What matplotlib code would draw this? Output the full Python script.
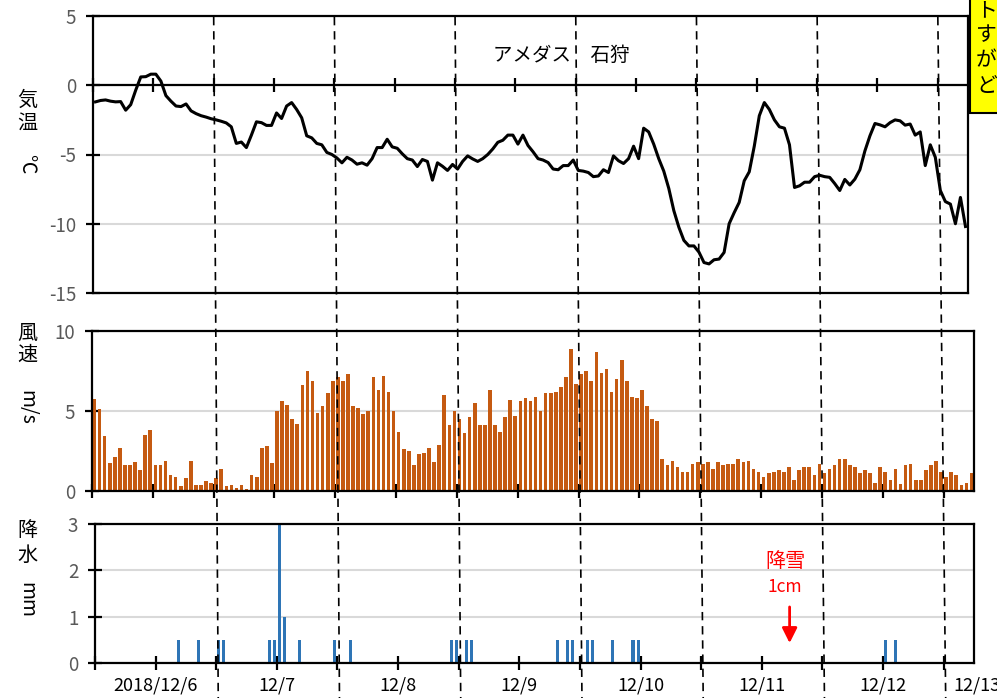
import numpy as np
import matplotlib.pyplot as plt
from matplotlib.lines import Line2D
from matplotlib.patches import Rectangle

plt.rcParams['font.family'] = ['Noto Sans CJK JP', 'DejaVu Sans']
plt.rcParams['axes.unicode_minus'] = False

# hours from 2018/12/6 00:00 (hourly obs, 12/5 13:00 .. 12/12 18:00)
hours = np.arange(-11, 163)

temp = [-1.2, -1.1, -1.06, -1.15, -1.2, -1.18, -1.8, -1.4, -0.35, 0.6,
        0.62, 0.8, 0.8, 0.3, -0.75, -1.15, -1.5, -1.54, -1.35, -1.85,
        -2.05, -2.2, -2.3, -2.42, -2.5, -2.6, -2.72, -3.0, -4.2, -4.1,
        -4.5, -3.6, -2.64, -2.7, -2.9, -2.9, -2.0, -2.4, -1.5, -1.25,
        -1.75, -2.35, -3.65, -3.8, -4.2, -4.3, -4.85, -5.0, -5.25, -5.6,
        -5.2, -5.4, -5.7, -5.6, -5.77, -5.3, -4.5, -4.5, -3.9, -4.45,
        -4.55, -4.95, -5.3, -5.4, -5.87, -5.36, -5.5, -6.85, -5.6, -5.85,
        -6.15, -5.72, -6.05, -5.5, -5.1, -5.32, -5.5, -5.3, -5.0, -4.6,
        -4.12, -3.97, -3.6, -3.6, -4.25, -3.6, -4.35, -4.8, -5.3, -5.4,
        -5.58, -6.05, -6.1, -5.8, -5.8, -5.4, -6.15, -6.2, -6.3, -6.6,
        -6.55, -6.1, -6.3, -5.1, -5.45, -5.65, -5.3, -4.4, -5.3, -3.1,
        -3.37, -4.25, -5.3, -6.2, -7.45, -9.05, -10.25, -11.2, -11.6, -11.6,
        -12.05, -12.8, -12.9, -12.6, -12.55, -12.07, -10.0, -9.2, -8.46, -6.9,
        -6.25, -4.4, -2.2, -1.25, -1.75, -2.5, -3.0, -3.1, -4.3, -7.38,
        -7.26, -7.0, -7.0, -6.6, -6.5, -6.6, -6.65, -7.1, -7.6, -6.8,
        -7.2, -6.78, -6.1, -4.74, -3.65, -2.76, -2.86, -3.0, -2.7, -2.5,
        -2.57, -2.88, -2.8, -3.6, -3.37, -5.8, -4.3, -5.2, -7.6, -8.4,
        -8.58, -10.0, -8.1, -10.2]

wind = [5.75, 5.1, 3.45, 1.75, 2.1, 2.7, 1.6, 1.6, 1.8, 1.3,
        3.5, 3.8, 1.6, 1.6, 1.9, 1.0, 0.9, 0.3, 0.8, 1.9,
        0.4, 0.4, 0.6, 0.5, 0.8, 1.4, 0.3, 0.4, 0.2, 0.4,
        0.1, 1.0, 0.9, 2.7, 2.8, 1.75, 5.0, 5.6, 5.4, 4.5,
        4.2, 6.6, 7.5, 6.9, 4.9, 5.3, 6.1, 6.9, 7.1, 6.9,
        7.3, 5.3, 5.2, 4.8, 5.0, 7.1, 6.3, 7.2, 6.2, 5.0,
        3.7, 2.6, 2.5, 1.6, 2.3, 2.4, 2.7, 1.8, 2.9, 6.0,
        4.1, 5.0, 4.5, 3.6, 4.6, 5.5, 4.1, 4.1, 6.3, 4.1,
        3.7, 4.6, 5.7, 4.7, 5.6, 5.8, 5.6, 5.9, 5.0, 6.1,
        6.1, 6.2, 6.5, 7.1, 8.9, 6.7, 7.3, 7.5, 6.9, 8.7,
        7.4, 7.6, 6.2, 7.0, 8.2, 6.9, 5.9, 5.8, 6.3, 5.3,
        4.5, 4.4, 2.0, 1.6, 1.9, 1.5, 1.2, 1.2, 1.7, 1.8,
        1.7, 1.8, 1.4, 1.8, 1.6, 1.7, 1.7, 2.0, 1.8, 1.9,
        1.4, 1.2, 0.9, 1.1, 1.2, 1.3, 1.2, 1.5, 0.7, 1.3,
        1.5, 1.5, 1.0, 1.7, 1.1, 1.4, 1.6, 2.0, 2.0, 1.6,
        1.5, 1.1, 1.3, 1.1, 0.5, 1.5, 1.2, 0.7, 1.4, 0.45,
        1.6, 1.7, 0.7, 0.7, 1.3, 1.6, 1.9, 1.2, 0.9, 1.2,
        1.0, 0.35, 0.5, 1.1]

precip_hours = [5, 9, 13, 14, 23, 24, 25, 26, 29, 36, 39, 59, 60, 62, 63,
                80, 82, 83, 86, 87, 91, 95, 96, 145, 147]
precip_mm = [0.5, 0.5, 0.5, 0.5, 0.5, 0.5, 3.0, 1.0, 0.5, 0.5, 0.5, 0.5, 0.5, 0.5, 0.5,
             0.5, 0.5, 0.5, 0.5, 0.5, 0.5, 0.5, 0.5, 0.5, 0.5]

day_labels = ['2018/12/6', '12/7', '12/8', '12/9', '12/10', '12/11', '12/12']
noon_lines = [12, 36, 60, 84, 108, 132, 156]

W, H = 997, 698
fig = plt.figure(figsize=(W / 100, H / 100), dpi=100)


def px_axes(l, t, r, b):
    return fig.add_axes([l / W, 1 - b / H, (r - l) / W, (b - t) / H])


ax1 = px_axes(93, 16, 968, 293)
ax2 = px_axes(92, 331, 974, 491)
ax3 = px_axes(95, 524, 974, 663)

xt = np.arange(-12, 157, 12)
for ax in (ax1, ax2, ax3):
    ax.set_xlim(-12, 162)
    for s in ax.spines.values():
        s.set_linewidth(1.6)
        s.set_color('black')
    ax.tick_params(direction='inout', length=10, width=1.6, color='black')
    ax.tick_params(axis='y', labelsize=13.5, labelcolor='#595959', pad=7)
    ax.set_xticks(xt)
    ax.grid(axis='y', color='#d9d9d9', lw=1.5)
    ax.set_axisbelow(True)

# temperature
x = hours - 0.5
ax1.plot(x, temp, color='black', lw=2.2, zorder=3)
ax1.set_ylim(-15, 5)
ax1.set_yticks([-15, -10, -5, 0, 5])
ax1.spines['bottom'].set_position(('data', 0))
ax1.axhline(-15, color='black', lw=1.6, clip_on=False, zorder=5)
ax1.set_xticklabels([])
ax1.text(0.535, 0.859, 'アメダス\u3000石狩', transform=ax1.transAxes,
         ha='center', va='center', fontsize=14)

# wind
ax2.bar(x, wind, width=0.72, color='#C55A11', zorder=2)
ax2.set_ylim(0, 10)
ax2.set_yticks([0, 5, 10])
ax2.set_xticklabels([])

# precipitation
ax3.bar(np.array(precip_hours) - 0.5, precip_mm, width=0.6, color='#2E75B6', zorder=2)
ax3.set_ylim(0, 3)
ax3.set_yticks([0, 1, 2, 3])
labels = []
for h in xt:
    labels.append(day_labels[h // 24] if h >= 0 and h % 24 == 0 else '')
ax3.set_xticklabels(labels, fontsize=13)
ax3.tick_params(axis='x', pad=5)
ax3.annotate('12/13', xy=(157.9, 0), xycoords=ax3.get_xaxis_transform(),
             xytext=(0, -10), textcoords='offset points', ha='left', va='top',
             fontsize=13, annotation_clip=False)

# snowfall note
ax3.text(124.6, 2.18, '降雪', color='red', ha='center', va='center', fontsize=14.5)
ax3.text(124.6, 1.64, '1cm', color='red', ha='center', va='center', fontsize=12.5)
ax3.annotate('', xy=(125.5, 0.37), xytext=(125.5, 1.27),
             arrowprops=dict(arrowstyle='-|>,head_length=0.9,head_width=0.45',
                             color='red', lw=2))

# axis titles
for s, y in [('気', 100), ('温', 123), ('風', 333), ('速', 355), ('降', 530), ('水', 555)]:
    fig.text(27 / W, 1 - y / H, s, ha='center', va='center', fontsize=14.5)
for s, y in [('℃', 164), ('m/s', 407), ('mm', 600)]:
    fig.text(27 / W, 1 - y / H, s, ha='center', va='center', fontsize=14, rotation=-90)

# dashed separators at noon
fig.canvas.draw()
for h in noon_lines:
    xt_top = ax1.transData.transform((h, 0))[0]
    xt_bot = ax3.transData.transform((h, 0))[0] + 2
    fig.add_artist(Line2D([xt_top / W, xt_bot / W], [1 - 17 / H, 0],
                          transform=fig.transFigure, color='black', lw=1.2,
                          ls=(0, (5, 3.5)), zorder=10))

# yellow note box (cut off at the right edge)
fig.add_artist(Rectangle((970 / W, 1 - 113 / H), 40 / W, 120 / H, transform=fig.transFigure,
                         facecolor='#FFFF00', edgecolor='black', lw=1.5, zorder=11))
for s, y in [('ト', 10), ('す', 35), ('が', 60), ('ど', 86)]:
    fig.text(976 / W, 1 - y / H, s, ha='left', va='center', fontsize=15, zorder=12)

fig.savefig('out.png', dpi=100)
